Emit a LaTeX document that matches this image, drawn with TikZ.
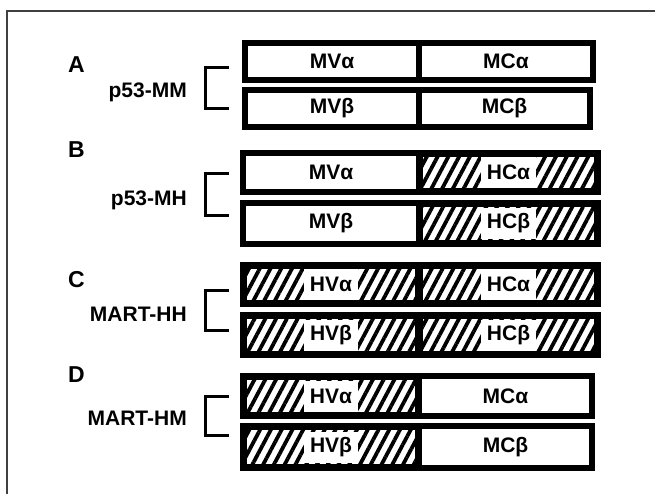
\documentclass[tikz,border=0pt]{standalone}
\usepackage{fontspec}
\setmainfont{Liberation Sans}
\usepackage{tikz}
\usetikzlibrary{positioning,patterns.meta}

\tikzset{
  mbox/.style={draw, line width=6pt, inner sep=0pt},
  hbox/.style={draw, line width=7pt, inner sep=0pt,
    pattern={Lines[angle=62,distance=9.5pt,line width=3.8pt]}},
  tag/.style={fill=white, inner xsep=6pt, inner ysep=0pt, minimum height=31pt,
    font=\fontsize{21}{23}\selectfont\bfseries},
  mtext/.style={font=\fontsize{21}{23}\selectfont\bfseries},
  letter/.style={anchor=base west, inner sep=0pt, font=\fontsize{23}{25}\selectfont\bfseries},
  group/.style={anchor=base east, inner sep=0pt, font=\fontsize{21}{23}\selectfont\bfseries},
  brace/.style={line width=3pt}
}

\begin{document}
\begin{tikzpicture}[x=1pt, y=-1pt]
  \useasboundingbox (0,0) rectangle (655,494);

  % frame
  \draw[line width=1.2pt, black!75] (7,494) -- (7,11) -- (655,11);

  % A: p53-MM
  \node[letter] (labA) at (68,73) {A};
  \node[group] (grpA) at (187,98) {p53-MM};
  \draw[brace] (229,67.5) -- (205.5,67.5) -- (205.5,108.5) -- (229,108.5);
  \node[mbox, mtext, minimum width=174, minimum height=37] (AVa) at (332,61.5) {MVα};
  \node[mbox, mtext, minimum width=174, minimum height=37] (ACa) at (506,61.5) {MCα};
  \node[mbox, mtext, minimum width=174, minimum height=37] (AVb) at (332,108.5) {MVβ};
  \node[mbox, mtext, minimum width=171, minimum height=37] (ACb) at (504.5,108.5) {MCβ};

  % B: p53-MH
  \node[letter] (labB) at (68,158) {B};
  \node[group] (grpB) at (187,206) {p53-MH};
  \draw[brace] (229,173.5) -- (205.5,173.5) -- (205.5,215.5) -- (229,215.5);
  \node[mbox, mtext, minimum width=176, minimum height=39] (BVa) at (331,172.5) {MVα};
  \node[hbox, minimum width=178, minimum height=38] (BCa) at (508.5,172.5) {};
  \node[tag] at (BCa) {HCα};
  \node[mbox, mtext, minimum width=176, minimum height=41] (BVb) at (331,223.5) {MVβ};
  \node[hbox, minimum width=178, minimum height=40] (BCb) at (508.5,223.5) {};
  \node[tag] at (BCb) {HCβ};

  % C: MART-HH
  \node[letter] (labC) at (68,287) {C};
  \node[group] (grpC) at (187,321) {MART-HH};
  \draw[brace] (229,290.5) -- (205.5,290.5) -- (205.5,330.5) -- (229,330.5);
  \node[hbox, minimum width=175, minimum height=38] (CVa) at (331,284.5) {};
  \node[tag] at (CVa) {HVα};
  \node[hbox, minimum width=178, minimum height=38] (CCa) at (508.5,284.5) {};
  \node[tag] at (CCa) {HCα};
  \node[hbox, minimum width=175, minimum height=39] (CVb) at (331,335) {};
  \node[tag] at (CVb) {HVβ};
  \node[hbox, minimum width=178, minimum height=39] (CCb) at (508.5,335) {};
  \node[tag] at (CCb) {HCβ};

  % D: MART-HM
  \node[letter] (labD) at (68,382) {D};
  \node[group] (grpD) at (187,425) {MART-HM};
  \draw[brace] (229,396.5) -- (205.5,396.5) -- (205.5,435.5) -- (229,435.5);
  \node[hbox, minimum width=175, minimum height=39] (DVa) at (331,396) {};
  \node[tag] at (DVa) {HVα};
  \node[mbox, mtext, minimum width=173, minimum height=40] (DCa) at (505.5,396) {MCα};
  \node[hbox, minimum width=175, minimum height=41] (DVb) at (331,447) {};
  \node[tag] at (DVb) {HVβ};
  \node[mbox, mtext, minimum width=173, minimum height=42] (DCb) at (505.5,447) {MCβ};
\end{tikzpicture}
\end{document}
